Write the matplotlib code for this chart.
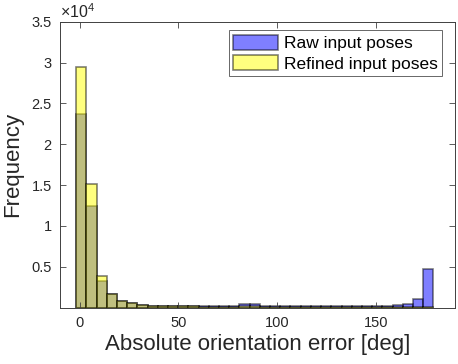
import matplotlib.pyplot as plt
import numpy as np

plt.rcParams['font.family'] = ['Liberation Sans', 'DejaVu Sans']
plt.rcParams['mathtext.fontset'] = 'custom'
plt.rcParams['mathtext.rm'] = 'Liberation Sans'

# Histogram bins (deg) and counts per bin
bin_start = -1.8
bin_width = 5.17
raw_counts = [23700, 12500, 3200, 1700, 850, 500, 350, 250, 200, 200,
              180, 170, 170, 180, 200, 250, 380, 380, 230, 170,
              150, 150, 150, 150, 150, 150, 150, 150, 160, 200,
              250, 300, 450, 1100, 4700]
refined_counts = [29500, 15100, 3900, 1700, 850, 500, 350, 250, 200, 180,
                  150, 140, 130, 130, 130, 130, 140, 140, 130, 120,
                  110, 110, 110, 110, 100, 100, 100, 100, 100, 100,
                  100, 100, 100, 100, 120]
labels = ['Raw input poses', 'Refined input poses']

edges = bin_start + bin_width * np.arange(len(raw_counts) + 1)
centers = (edges[:-1] + edges[1:]) / 2

fig = plt.figure(figsize=(4.58, 3.64), dpi=100)
ax = fig.add_axes([0.131, 0.155, 0.862, 0.785])

ax.hist(centers, bins=edges, weights=raw_counts, color=(0, 0, 1), alpha=0.5,
        edgecolor=(0, 0, 0), linewidth=1.2, label=labels[0])
ax.hist(centers, bins=edges, weights=refined_counts, color=(1, 1, 0), alpha=0.5,
        edgecolor=(0, 0, 0), linewidth=1.2, label=labels[1])

ax.set_xlim(-10, 190)
ax.set_ylim(0, 35000)
ax.set_xticks([0, 50, 100, 150])
ax.set_yticks([5000, 10000, 15000, 20000, 25000, 30000, 35000])
ax.set_yticklabels(['0.5', '1', '1.5', '2', '2.5', '3', '3.5'])
ax.tick_params(direction='in', length=4, top=True, right=True, labelsize=10.5,
               color='0.25', labelcolor='0.15', width=0.6, pad=6)
for s in ax.spines.values():
    s.set_color('0.25')
    s.set_linewidth(0.7)

ax.text(0.0, 1.004, r'$\times\mathrm{10}^{\mathrm{4}}$', transform=ax.transAxes, fontsize=11.5,
        color='0.15', ha='left', va='bottom')

ax.set_xlabel('Absolute orientation error [deg]', fontsize=16, color='0.15', labelpad=3)
ax.set_ylabel('Frequency', fontsize=16, color='0.15', labelpad=6)

leg = ax.legend(loc='upper right', bbox_to_anchor=(0.967, 0.97), fontsize=12.5,
                frameon=True, fancybox=False, borderaxespad=0.0,
                handlelength=2.6, handleheight=1.0, handletextpad=0.3,
                labelspacing=0.2, borderpad=0.25)
leg.get_frame().set_edgecolor('0.25')
leg.get_frame().set_linewidth(0.7)

fig.savefig('out.png', dpi=100)
